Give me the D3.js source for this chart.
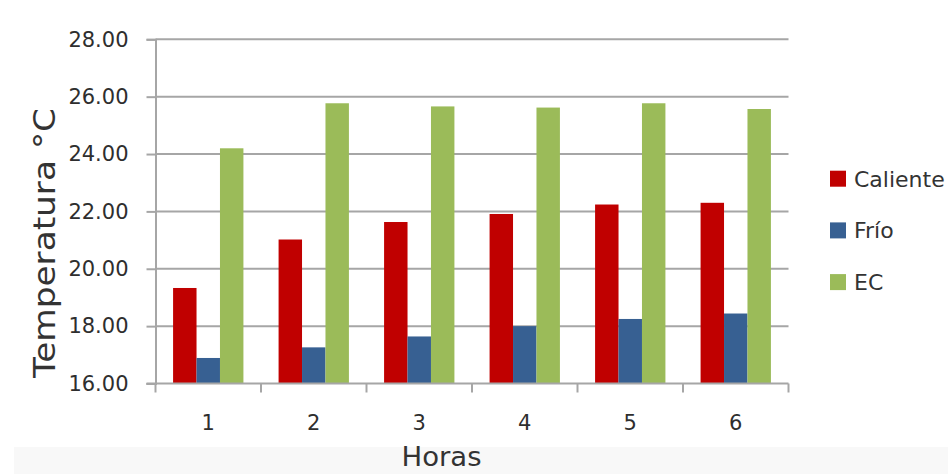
<!DOCTYPE html>
<html>
<head>
<meta charset="utf-8">
<script src="https://cdn.jsdelivr.net/npm/d3@7"></script>
<style>
  html, body { margin: 0; padding: 0; background: #fff; }
  svg { display: block; }
</style>
</head>
<body>
<svg id="chart" width="948" height="474"></svg>
<script>
// Hours on the x axis
const hours = ["1", "2", "3", "4", "5", "6"];
// Series names shown in the legend
const seriesNames = ["Caliente", "Frío", "EC"];
// Temperature per hour (°C) for each series
const caliente = [19.33, 21.02, 21.63, 21.91, 22.24, 22.30];
const frio     = [16.89, 17.26, 17.64, 18.00, 18.25, 18.44];
const ec       = [24.20, 25.77, 25.66, 25.62, 25.77, 25.57];
// Y axis tick values
const yTicks = [16, 18, 20, 22, 24, 26, 28];

const seriesValues = [caliente, frio, ec];
const colors = ["#c00000", "#376092", "#9bbb59"];

const svg = d3.select("#chart");
const W = 948, H = 474;
const plot = { left: 155.5, right: 788.5, top: 39.3, bottom: 383.5 };

// faint grey band along the bottom edge
svg.append("rect")
  .attr("x", 14).attr("y", 447).attr("width", W - 14).attr("height", H - 447)
  .attr("fill", "#f8f8f8");

const x = d3.scaleBand().domain(hours).range([plot.left, plot.right]).paddingInner(0).paddingOuter(0);
const inner = d3.scaleBand().domain(d3.range(seriesNames.length))
  .range([0, x.bandwidth()]).paddingInner(0).paddingOuter(0.75);
const y = d3.scaleLinear().domain([16, 28]).range([plot.bottom, plot.top]);

const gridColor = "#a6a6a6";

// horizontal gridlines
svg.append("g")
  .selectAll("line")
  .data(yTicks.slice(1))
  .join("line")
  .attr("x1", plot.left).attr("x2", plot.right)
  .attr("y1", d => y(d)).attr("y2", d => y(d))
  .attr("stroke", gridColor).attr("stroke-width", 2);

// y axis
const yAxis = svg.append("g")
  .attr("transform", `translate(${plot.left},0)`)
  .call(d3.axisLeft(y).tickValues(yTicks).tickFormat(d3.format(".2f")).tickSize(9).tickPadding(18));
yAxis.select(".domain").attr("stroke", gridColor).attr("stroke-width", 2);
yAxis.selectAll(".tick line").attr("stroke", gridColor).attr("stroke-width", 2);
yAxis.selectAll("text")
  .attr("font-family", "'DejaVu Sans', sans-serif")
  .attr("font-size", 21)
  .attr("fill", "#2e2e2e");

// bars
const groups = svg.append("g")
  .selectAll("g")
  .data(hours)
  .join("g")
  .attr("transform", d => `translate(${x(d)},0)`);

groups.selectAll("rect")
  .data((h, i) => seriesValues.map((vals, s) => ({ s, v: vals[i] })))
  .join("rect")
  .attr("x", d => inner(d.s))
  .attr("width", inner.bandwidth())
  .attr("y", d => y(d.v))
  .attr("height", d => y(16) - y(d.v))
  .attr("fill", d => colors[d.s]);

// x axis with ticks between categories
const xAxisG = svg.append("g").attr("transform", `translate(0,${plot.bottom})`);
xAxisG.append("line")
  .attr("x1", plot.left - 9).attr("x2", plot.right)
  .attr("stroke", gridColor).attr("stroke-width", 2);
const boundaries = hours.map(h => x(h)).concat([x(hours[hours.length - 1]) + x.bandwidth()]);
xAxisG.selectAll("line.tick")
  .data(boundaries)
  .join("line")
  .attr("class", "tick")
  .attr("x1", d => d).attr("x2", d => d)
  .attr("y1", 0).attr("y2", 9)
  .attr("stroke", gridColor).attr("stroke-width", 2);
xAxisG.selectAll("text")
  .data(hours)
  .join("text")
  .attr("x", d => x(d) + x.bandwidth() / 2)
  .attr("y", 46)
  .attr("text-anchor", "middle")
  .attr("font-family", "'DejaVu Sans', sans-serif")
  .attr("font-size", 21)
  .attr("fill", "#2e2e2e")
  .text(d => d);

// axis titles
svg.append("text")
  .attr("x", 441.5).attr("y", 466)
  .attr("text-anchor", "middle")
  .attr("font-family", "'DejaVu Sans', sans-serif")
  .attr("font-size", 27)
  .attr("fill", "#333")
  .attr("textLength", 80).attr("lengthAdjust", "spacingAndGlyphs")
  .text("Horas");

svg.append("text")
  .attr("transform", "translate(55,243) rotate(-90)")
  .attr("text-anchor", "middle")
  .attr("font-family", "'DejaVu Sans', sans-serif")
  .attr("font-size", 30)
  .attr("fill", "#333")
  .attr("textLength", 270).attr("lengthAdjust", "spacingAndGlyphs")
  .text("Temperatura °C");

// legend
const legend = svg.append("g")
  .selectAll("g")
  .data(seriesNames)
  .join("g")
  .attr("transform", (d, i) => `translate(830,${178.7 + i * 51.7})`);
legend.append("rect")
  .attr("x", 0).attr("y", -8).attr("width", 16).attr("height", 16)
  .attr("fill", (d, i) => colors[i]);
legend.append("text")
  .attr("x", 24).attr("y", 0)
  .attr("dy", "0.36em")
  .attr("font-family", "'DejaVu Sans', sans-serif")
  .attr("font-size", 22)
  .attr("fill", "#333")
  .text(d => d);
</script>
</body>
</html>
